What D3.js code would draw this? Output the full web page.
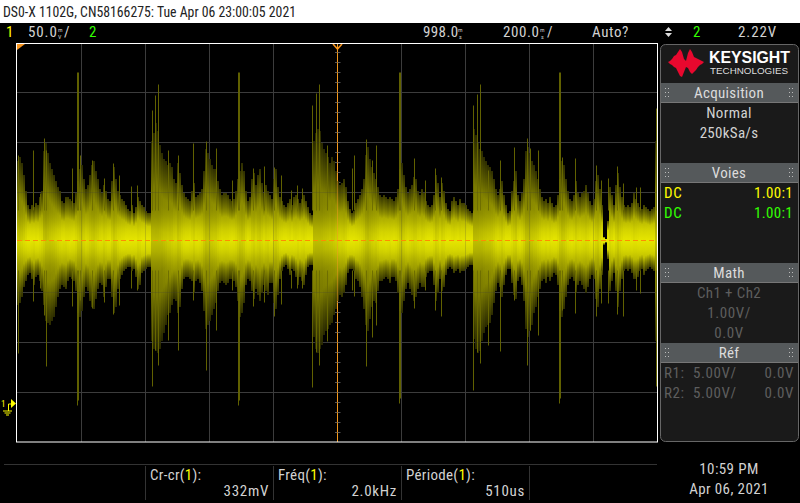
<!DOCTYPE html>
<html><head><meta charset="utf-8">
<script src="https://cdn.jsdelivr.net/npm/d3@7"></script>
<style>
html,body{margin:0;padding:0;background:#000;overflow:hidden}
svg{display:block}
text{font-family:"Liberation Sans Narrow","Roboto Condensed","Liberation Sans",sans-serif}
</style></head><body>
<script>
// waveform envelope, mV above / below the trace level, read every 2 columns
const segmentStarts=[17,77,151,239,313,401,473,561];
const upperA=[80,84,78,66,50,36,32,36,34,38,36,44,50,90,98,88,78,72,66,60,54,50,40,38,44,44,42,40,38,48];
const lowerA=[64,62,56,46,40,34,32,38,44,36,34,40,50,64,80,82,84,80,76,66,56,48,44,46,48,40,36,38,40,50];
const upperB=[60,72,76,62,52,56,66,76,80,70,62,52,48,56,50,42,40,60,74,62,50,46,42,40,36,32,30,36,28,34,44,40,36,34,30,28,28];
const lowerB=[72,76,70,56,46,50,60,66,68,58,48,42,44,56,46,38,38,56,72,66,48,38,34,30,28,26,26,30,28,36,48,44,32,30,28,26,26];
const upperC=[100,108,118,110,96,88,82,80,76,78,74,62,58,78,68,56,48,44,42,40,50,58,44,46,48,52,70,92,88,82,76,72,72,60,52,46,48,48,46,42,40,42,50,62];
const lowerC=[100,108,110,112,108,100,92,84,74,72,64,58,60,72,66,48,38,36,36,38,40,52,40,38,42,50,70,88,84,80,74,68,62,50,42,40,42,44,42,38,38,40,46,60];
const upperD=[70,78,70,50,40,44,62,68,56,66,72,58,48,56,50,46,42,62,72,54,44,40,36,34,38,42,36,44,46,42,38,42,46,40,34,28,26];
const lowerD=[76,72,62,44,38,40,50,58,48,54,60,52,44,50,54,42,42,62,68,54,38,30,26,24,28,34,28,30,36,44,36,40,44,34,26,24,24];
const upperE=[100,108,112,110,98,92,88,84,78,84,80,70,60,56,58,62,54,40,32,28,30,38,42,46,52,62,86,94,82,74,68,62,54,46,44,46,44,42,44,42,40,44,52,72];
const lowerE=[96,108,112,108,104,94,90,88,84,82,74,68,60,54,56,52,44,32,28,28,30,38,40,46,56,68,84,90,78,66,60,62,50,40,40,38,36,38,42,36,36,40,52,70];
const upperF=[78,66,54,48,52,56,64,62,50,46,52,48,40,36,34,36,46,66,58,44,58,50,38,32,30,40,44,40,36,42,38,38,36,32,30,28];
const lowerF=[72,60,48,42,48,54,60,56,48,42,46,46,36,32,30,30,44,60,52,38,50,46,34,28,26,28,32,30,28,32,30,30,28,26,24,24];
const upperG=[112,106,98,92,90,84,80,76,74,70,62,52,46,52,60,46,36,28,30,50,60,70,46,40,48,62,90,94,88,80,76,70,62,52,44,40,42,38,44,38,34,36,46,62];
const lowerG=[98,108,112,110,100,92,86,84,82,74,62,50,42,46,56,44,34,28,28,42,54,58,40,36,44,60,88,96,90,84,72,66,56,48,40,38,42,36,40,36,32,34,44,70];
const upperH=[80,76,62,50,42,40,46,60,48,44,48,50,56,48,40,36,42,60,66,52,36,4,2,20,54,46,36,56,68,54,44,36,34,36,34,38,48,42,38,34,32,36,34,32,30,32,34,100];
const lowerH=[76,68,56,44,38,36,40,52,44,40,44,48,52,46,38,34,38,58,66,48,34,4,2,18,50,40,32,50,66,50,38,30,28,30,28,32,38,38,36,30,28,34,30,28,26,28,30,100];
const upperSegments=[upperA,upperB,upperC,upperD,upperE,upperF,upperG,upperH];
const lowerSegments=[lowerA,lowerB,lowerC,lowerD,lowerE,lowerF,lowerG,lowerH];
// isolated peaks: column, mV up, mV down
const spikes=[[18,85,113],[33,90,61],[40,47,48],[44,102,75],[46,90,126],[72,72,66],[77,168,165],[78,168,160],[80,85,60],[92,80,68],[104,62,62],[113,77,74],[119,65,65],[131,54,48],[137,55,50],
[152,130,146],[155,145,110],[158,156,125],[168,90,100],[178,85,110],[193,97,60],[206,99,130],[216,92,90],
[232,60,50],[238,168,165],[239,168,160],[253,72,66],[264,74,62],[274,73,76],[281,65,64],[291,50,48],[297,55,48],[302,52,48],
[312,135,147],[316,147,112],[319,156,125],[327,95,101],[352,72,50],[354,85,56],[366,101,126],[372,80,97],[376,95,85],[399,168,163],[400,168,158],[414,82,68],[425,60,50],[435,72,70],[441,63,76],
[473,135,150],[477,146,112],[480,156,123],[488,70,105],[500,80,111],[514,93,60],[527,102,125],[530,92,90],[538,90,95],[559,168,163],[560,168,158],[562,83,70],[575,82,73],[596,75,76],[601,60,63],[608,62,63],[617,74,74],[623,57,76],[636,53,50],[640,53,53],[656,132,146]];
const gridColumns=[81,145,209,273,401,465,529,593];
const gridLevels=[150,100,50,-50,-100,-150];
const triggerTicks=[190,180,170,160,150,140,130,120,110,100,90,80,70,60,50,40,30,20,10,-10,-20,-30,-40,-50,-60,-70,-80,-90,-100,-110,-120,-130,-140,-150,-160,-170,-180,-190];
const traceLevel=2, centerColumn=337;
const barGapColumns=[145,273,401,529];
const logoUp=[0,1,3,6,7,10,13,10,3,1,9,13,10,5,4,3,2,1,0];
const logoDown=[0,2,3,5,6,10,14,15,10,5,6,10,12,10,8,5,3,2,0];

const W=800,H=503;
const svg=d3.select('body').append('svg').attr('width',W).attr('height',H);
const defs=svg.append('defs');
svg.append('rect').attr('width',W).attr('height',H).attr('fill','#000');
svg.append('rect').attr('width',W).attr('height',23).attr('fill','#fff');

const x=d3.scaleLinear().domain([16,657]).range([16.5,657.5]);
const y=d3.scaleLinear().domain([-200,200]).range([442.5,42.5]);
const g=svg.append('g');

// grid
function grid(op){
  g.append('g').selectAll('line').data(gridColumns).join('line').attr('x1',d=>x(d)).attr('x2',d=>x(d)).attr('y1',44).attr('y2',442).attr('stroke','#3c3c3c').attr('stroke-opacity',op);
  g.append('g').selectAll('line').data(gridLevels).join('line').attr('x1',17).attr('x2',657).attr('y1',d=>y(d)).attr('y2',d=>y(d)).attr('stroke','#3c3c3c').attr('stroke-opacity',op);
}
grid(1);
g.append('line').attr('x1',x(centerColumn)).attr('x2',x(centerColumn)).attr('y1',44).attr('y2',442).attr('stroke','#f49a1e');
g.append('g').selectAll('line').data(triggerTicks).join('line').attr('x1',x(centerColumn)-2.5).attr('x2',x(centerColumn)+3).attr('y1',d=>y(d)).attr('y2',d=>y(d)).attr('stroke','#555');

// persistence shading: brightness from distance to the trace and to the column's own edge
const distIn=[0,10,20,30,45,70,120], gainOut=[1,.93,.8,.7,.66,.6,.55];
const gain=d3.scaleLinear().domain(distIn).range(gainOut).clamp(true);
const edge=d3.scaleLinear().domain([0,.5,1]).range([1,1,.36]);
const core=d3.scaleLinear().domain([35,100]).range([230,190]).clamp(true);
const shadeId=(a,dir)=>`s${dir}${a}`;
const amps=new Set(upperSegments.flat().concat(lowerSegments.flat()));
amps.forEach(a=>{
  ['u','d'].forEach(dir=>{
    const lg=defs.append('linearGradient').attr('id',shadeId(a,dir)).attr('x1',0).attr('x2',0).attr('y1',dir==='u'?1:0).attr('y2',dir==='u'?0:1);
    d3.range(0,1.001,.1).forEach(t=>{
      const v=Math.round(core(a)*gain(t*a)*edge(t));
      lg.append('stop').attr('offset',t).attr('stop-color',`rgb(${v},${v},0)`);
    });
  });
});

// waveform columns
const cols=[];
segmentStarts.forEach((s,i)=>{upperSegments[i].forEach((u,j)=>cols.push({c:s+2*j,u,l:lowerSegments[i][j]}));});
const wave=g.append('g').attr('shape-rendering','crispEdges');
wave.append('g').selectAll('rect').data(cols).join('rect').attr('x',d=>x(d.c)-.5).attr('width',2).attr('y',d=>y(traceLevel+d.u)).attr('height',d=>y(traceLevel)-y(traceLevel+d.u)).attr('fill',d=>`url(#${shadeId(d.u,'u')})`);
wave.append('g').selectAll('rect').data(cols).join('rect').attr('x',d=>x(d.c)-.5).attr('width',2).attr('y',d=>y(traceLevel)).attr('height',d=>y(traceLevel-d.l)-y(traceLevel)).attr('fill',d=>`url(#${shadeId(d.l,'d')})`);
// peaks
const pk=g.append('g');
pk.append('g').selectAll('line').data(spikes).join('line').attr('x1',d=>x(d[0])).attr('x2',d=>x(d[0])).attr('y1',d=>y(traceLevel+d[1])).attr('y2',d=>y(traceLevel+30)).attr('stroke','#6c6c00').attr('stroke-opacity',.9);
pk.append('g').selectAll('line').data(spikes).join('line').attr('x1',d=>x(d[0])).attr('x2',d=>x(d[0])).attr('y1',d=>y(traceLevel-d[2])).attr('y2',d=>y(traceLevel-30)).attr('stroke','#6c6c00').attr('stroke-opacity',.9);
grid(.2);

// trigger level and centre marker
g.append('line').attr('x1',17).attr('x2',657).attr('y1',y(traceLevel)).attr('y2',y(traceLevel)).attr('stroke','#ff8c00').attr('stroke-dasharray','5 3');
g.append('line').attr('x1',x(centerColumn)).attr('x2',x(centerColumn)).attr('y1',44).attr('y2',442).attr('stroke','#f49a1e').attr('stroke-opacity',.5);
g.append('path').attr('d','M17 44H25L17 50Z').attr('fill','#f7941d');
g.append('path').attr('d','M333 44L337.5 49L342 44').attr('fill','none').attr('stroke','#f7941d').attr('stroke-width',1.6);

// plot border
g.append('rect').attr('x',16.5).attr('y',43.5).attr('width',641).attr('height',398.5).attr('fill','none').attr('stroke','#fff').attr('stroke-width',1);

// ground marker
const Y='#ffff00',G2='#33ff00',W1='#d2d2d2',DIM='#5e5e5e';
svg.append('path').attr('d','M11 399L16 403.5L11 408Z').attr('fill',Y);
svg.append('path').attr('d','M8.5 404H11M8.5 404V411M3 411H12M4.5 413H10.5M6 415H9').attr('stroke',Y).attr('fill','none');
function T(t,px,py,opt={}){const s=svg.append('text').attr('x',px).attr('y',py).attr('font-size',opt.s||15).attr('fill',opt.c||W1).attr('text-anchor',opt.a||'start').text(t);if(opt.w)s.attr('font-weight',opt.w);if(opt.ls)s.attr('letter-spacing',opt.ls);if(opt.f)s.style('font-family',opt.f);return s;}
T('1',1,407,{c:Y,s:9});

// title and status row
T('DS0-X 1102G, CN58166275: Tue Apr 06 23:00:05 2021',3,17,{c:'#222',s:15.5}).attr('textLength',293).attr('lengthAdjust','spacingAndGlyphs');
T('1',6,37,{c:Y});T('50.0',28,37,{ls:.9});
T('m',58,31.5,{s:6});T('V',58,38.5,{s:6});T('/',64,37);
T('2',89,37,{c:G2});
T('998.0',423,37,{ls:.4});T('m',458,31.5,{s:6});T('s',459,38.5,{s:6});
T('200.0',503,37,{ls:.6});T('m',540,31.5,{s:6});T('s',541,38.5,{s:6});T('/',547,37);
T('Auto?',592,37,{ls:.6});
svg.append('path').attr('d','M668.5 27L672 31H665ZM668.5 37L672 33H665Z').attr('fill','#ddd');
T('2',693,37,{c:G2});T('2.22V',738,37,{ls:.9});

// side panel
svg.append('rect').attr('x',660.5).attr('y',44.5).attr('width',138).attr('height',397).attr('rx',5).attr('fill','#1a1a1a').attr('stroke','#666');
const logoX=d3.scaleLinear().domain([0,18]).range([668,704]);
const logoArea=d3.area().x((d,i)=>logoX(i)).y0((d,i)=>y(180-logoDown[i])).y1(d=>y(180+d));
svg.append('path').datum(logoUp).attr('d',logoArea).attr('fill','#e8082e').attr('transform','translate(0,-0.5)');
T('KEYSIGHT',709,63,{c:'#fff',s:16,w:'bold',f:'"Liberation Sans",sans-serif'}).attr('textLength',81).attr('lengthAdjust','spacingAndGlyphs');
T('TECHNOLOGIES',710,74,{c:'#ddd',s:9.5,f:'"Liberation Sans",sans-serif'}).attr('textLength',78).attr('lengthAdjust','spacingAndGlyphs');

const headers=[['Acquisition',83],['Voies',163],['Math',263],['Réf',343]];
headers.forEach(([t,yy])=>{
  svg.append('rect').attr('x',661).attr('y',yy).attr('width',137).attr('height',19.5).attr('fill','#55595b');
  svg.append('line').attr('x1',661).attr('x2',798).attr('y1',yy+19.5).attr('y2',yy+19.5).attr('stroke','#777');
  T(t,729,yy+15,{a:'middle',ls:.3,c:'#dcdcdc'});
  [[665,668],[789,792]].forEach(p=>p.forEach(px=>[5,9,13].forEach(dy=>svg.append('rect').attr('x',px).attr('y',yy+dy).attr('width',1).attr('height',1).attr('fill','#bbb'))));
});
T('Normal',729,118,{a:'middle',ls:.4});T('250kSa/s',729,138,{a:'middle',ls:.3});
T('DC',664,198,{c:Y,ls:.6});T('1.00:1',793,198,{c:Y,a:'end',ls:.3});
T('DC',664,218,{c:G2,ls:.6});T('1.00:1',793,218,{c:G2,a:'end',ls:.3});
T('Ch1 + Ch2',729,298,{a:'middle',c:DIM,ls:.4});T('1.00V/',729,318,{a:'middle',c:DIM,ls:.6});T('0.0V',729,338,{a:'middle',c:DIM,ls:.6});
T('R1:',664,378,{c:DIM,ls:.6});T('5.00V/',693,378,{c:DIM,ls:.6});T('0.0V',794,378,{c:DIM,a:'end',ls:.6});
T('R2:',664,398,{c:DIM,ls:.6});T('5.00V/',693,398,{c:DIM,ls:.6});T('0.0V',794,398,{c:DIM,a:'end',ls:.6});

// measurement strip
svg.append('line').attr('x1',4).attr('x2',657).attr('y1',464.5).attr('y2',464.5).attr('stroke','#333');
svg.append('g').selectAll('line').data(barGapColumns).join('line').attr('x1',d=>d+.5).attr('x2',d=>d+.5).attr('y1',466).attr('y2',500).attr('stroke','#333');
function M(a,px,py){const s=T('',px,py,{ls:.3});s.append('tspan').text(a);s.append('tspan').attr('fill',Y).text('1');s.append('tspan').text('):');}
M('Cr-cr(',150,480);M('Fréq(',278,480);M('Période(',406,480);
T('332mV',269,496,{a:'end',ls:.7});T('2.0kHz',397,496,{a:'end',ls:.7});T('510us',525,496,{a:'end',ls:.7});
T('10:59 PM',729,474,{a:'middle',ls:.4});T('Apr 06, 2021',729,494,{a:'middle',ls:.4});
</script></body></html>
